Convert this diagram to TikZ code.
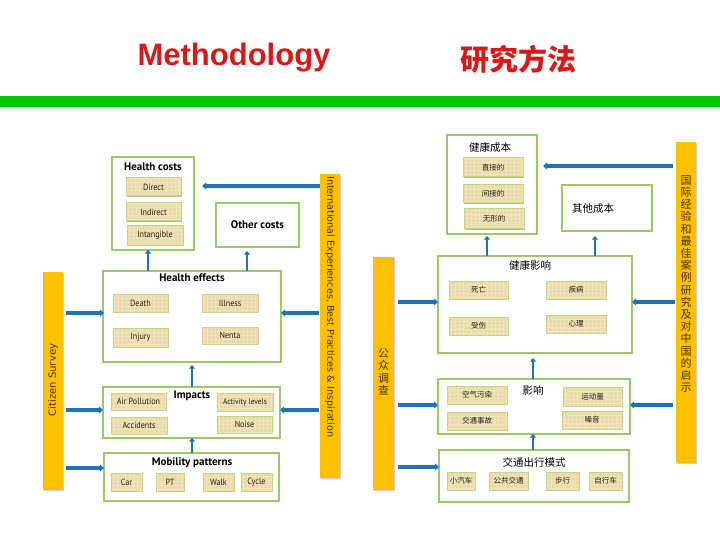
\documentclass[tikz,border=0pt]{standalone}
\usepackage{fontspec}
\setmainfont{PT Sans}
\newfontfamily\subf[FakeStretch=0.9]{PT Sans}
\newfontfamily\cjk{Noto Sans CJK SC}
\newfontfamily\dejavu{DejaVu Sans}
\newfontfamily\arialf{Liberation Sans}
\usetikzlibrary{arrows.meta,shadows}
\definecolor{arrblue}{RGB}{31,113,184}
\definecolor{barorange}{RGB}{255,192,0}
\definecolor{boxgreen}{RGB}{155,200,105}
\definecolor{tanfill}{RGB}{234,220,168}
\definecolor{tanline}{RGB}{240,229,190}
\definecolor{subborder}{RGB}{196,212,128}
\definecolor{subshadow}{RGB}{140,165,95}
\definecolor{titlered}{RGB}{215,25,25}
\definecolor{topgreen}{RGB}{0,200,0}
\definecolor{bartext}{RGB}{70,45,0}
\definecolor{subtext}{RGB}{35,30,20}
\newcommand{\boxat}[7]{\node[#1, minimum width={#5-#3}, minimum height={#6-#4}] (#2) at ({(#3+#5)/2},{(#4+#6)/2}) {#7};}
\begin{document}
\begin{tikzpicture}[x=1pt,y=-1pt,
  bigbox/.style={draw=boxgreen, line width=1.1pt, fill=white, inner sep=0pt, outer sep=0pt},
  subbox/.style={draw=subborder, line width=1pt, fill=tanfill, inner sep=0pt, outer sep=0pt,
    text=subtext, font=\subf\fontsize{9}{10}\selectfont,
    drop shadow={shadow xshift=1.3pt, shadow yshift=-1.3pt, fill=subshadow, opacity=0.7},
    path picture={\draw[tanline, line width=0.25pt] (path picture bounding box.south west) grid[step=4pt] (path picture bounding box.north east);}},
  csub/.style={subbox, font=\cjk\fontsize{7.5}{9}\selectfont},
  bar/.style={fill=barorange, draw=none, inner sep=0pt, outer sep=0pt,
    drop shadow={shadow xshift=1.2pt, shadow yshift=-1.2pt, fill=black!40, opacity=0.5}},
  entitle/.style={font=\bfseries\fontsize{11}{12}\selectfont, inner sep=0pt},
  cntitle/.style={font=\cjk\fontsize{10.5}{12}\selectfont, inner sep=0pt},
  arr/.style={draw=arrblue, line width=3.4pt, -{Triangle[length=4pt,width=7pt]}},
  varr/.style={draw=arrblue, line width=2.6pt, -{Triangle[length=3.5pt,width=6pt]}}
]
\useasboundingbox (0,0) rectangle (720,540);
% header
\node[font=\arialf\bfseries\fontsize{31}{33}\selectfont, text=titlered, anchor=base, inner sep=0pt] (meth) at (234,66) {Methodology};
\node[font=\cjk\bfseries\fontsize{29}{32}\selectfont, text=titlered, inner sep=0pt] (yjff) at (518,59) {研究方法};
\fill[topgreen] (0,96) rectangle (720,107);

% ---------------- left diagram ----------------
\boxat{bigbox}{hc}{112}{157}{194}{250}{}
\node[entitle] (hct) at (153,167) {Health costs};
\boxat{subbox}{direct}{126}{178}{181}{196}{Direct}
\boxat{subbox}{indirect}{126}{203}{181}{221}{Indirect}
\boxat{subbox}{intangible}{127}{226}{183}{245}{Intangible}
\boxat{bigbox}{oc}{216}{203}{299}{247}{}
\node[entitle] (oct) at (257.5,225) {Other costs};

\boxat{bigbox}{he}{103}{271}{281}{362}{}
\node[entitle] (het) at (192,278) {Health effects};
\boxat{subbox}{death}{113}{294}{168}{312}{Death}
\boxat{subbox}{illness}{202}{294}{258}{312}{Illness}
\boxat{subbox}{injury}{113}{328}{168}{347}{Injury}
\boxat{subbox}{nenta}{202}{327}{258}{344}{Nenta}

\boxat{bigbox}{im}{103}{387}{280}{438}{}
\node[entitle] (imt) at (192,396) {Impacts};
\boxat{subbox}{airp}{111}{393}{166}{410}{Air Pollution}
\boxat{subbox}{activity}{217}{393}{273}{411}{\fontsize{8.2}{9}\selectfont Activity levels}
\boxat{subbox}{accidents}{111}{417}{167}{434}{Accidents}
\boxat{subbox}{noise}{217}{416}{272}{433}{Noise}

\boxat{bigbox}{mp}{104}{453}{279}{501}{}
\node[entitle] (mpt) at (192,463) {Mobility patterns};
\boxat{subbox}{car}{111}{473}{142}{491}{Car}
\boxat{subbox}{pt}{156}{473}{184}{491}{PT}
\boxat{subbox}{walk}{203}{473}{234}{491}{Walk}
\boxat{subbox}{cycle}{241}{473}{272}{491}{Cycle}

\boxat{bar}{cs}{43}{272}{63}{490}{}
\node[font=\dejavu\fontsize{10}{12}\selectfont, text=bartext, rotate=90, inner sep=0pt] (cst) at (53,380) {Citizen Survey};
\boxat{bar}{intl}{320}{174}{340}{478}{}
\node[font=\dejavu\fontsize{9.6}{12}\selectfont, text=bartext, rotate=-90, anchor=west, inner sep=0pt] (intlt) at (330,176) {International Experiences, Best Practices \& Inspiration};

% left arrows
\draw[arr, shorten >=8pt] (intl.west |- 0,186) -- (hc.east |- 0,186);
\draw[varr] (he.north -| 148,0) -- (hc.south -| 148,0);
\draw[varr, shorten >=4pt] (he.north -| 247,0) -- (oc.south -| 247,0);
\draw[arr, shorten <=3pt, shorten >=-1pt] (cs.east |- 0,313) -- (he.west |- 0,313);
\draw[arr, shorten <=1pt] (intl.west |- 0,313) -- (he.east |- 0,313);
\draw[varr, shorten >=3pt] (im.north -| 192,0) -- (he.south -| 192,0);
\draw[varr] (mp.north -| 192,0) -- (im.south -| 192,0);
\draw[arr, shorten <=3pt] (cs.east |- 0,410) -- (im.west |- 0,410);
\draw[arr, shorten <=3pt] (cs.east |- 0,468) -- (mp.west |- 0,468);
\draw[arr, shorten <=1pt] (intl.west |- 0,410) -- (im.east |- 0,410);

% ---------------- right diagram ----------------
\boxat{bigbox}{jkcb}{447}{135}{537}{234}{}
\node[cntitle] (jkcbt) at (490,147) {健康成本};
\boxat{csub}{zj}{463}{158}{523}{177}{直接的}
\boxat{csub}{jj}{463}{185}{523}{203}{间接的}
\boxat{csub}{wx}{464}{209}{524}{229}{无形的}
\boxat{bigbox}{qt}{562}{185}{652}{231}{}
\node[cntitle] (qtt) at (593,209) {其他成本};

\boxat{bigbox}{jkyx}{438}{256}{632}{353}{}
\node[cntitle] (jkyxt) at (530,265) {健康影响};
\boxat{csub}{sw}{449}{281}{508}{299}{死亡}
\boxat{csub}{jb}{546}{281}{606}{299}{疾病}
\boxat{csub}{ss}{449}{317}{508}{335}{受伤}
\boxat{csub}{xl}{546}{315}{606}{333}{心理}

\boxat{bigbox}{yx}{438}{379}{630}{434}{}
\node[cntitle] (yxt) at (533,390) {影响};
\boxat{csub}{kq}{447}{386}{507}{404}{空气污染}
\boxat{csub}{yd}{563}{387}{622}{406}{运动量}
\boxat{csub}{jt}{447}{412}{507}{430}{交通事故}
\boxat{csub}{zy}{562}{411}{622}{429}{噪音}

\boxat{bigbox}{jtcx}{439}{450}{629}{502}{}
\node[cntitle] (jtcxt) at (534,462) {交通出行模式};
\boxat{csub}{xqc}{447}{472}{475}{490}{小汽车}
\boxat{csub}{ggjt}{489}{472}{528}{490}{公共交通}
\boxat{csub}{bx}{546}{472}{579}{490}{步行}
\boxat{csub}{zxc}{589}{472}{622}{490}{自行车}

\boxat{bar}{gz}{373}{257}{394}{490}{}
\node[font=\cjk\fontsize{11}{12.5}\selectfont, text=bartext, align=center, inner sep=0pt] (gzt) at (383.5,372) {公\\众\\调\\查};
\boxat{bar}{gj}{676}{142}{696}{463}{}
\node[font=\cjk\fontsize{11}{12.2}\selectfont, text=bartext, align=center, inner sep=0pt] (gjt) at (686,284) {国\\际\\经\\验\\和\\最\\佳\\案\\例\\研\\究\\及\\对\\中\\国\\的\\启\\示};

% right arrows
\draw[arr, shorten <=3pt, shorten >=6pt] (gj.west |- 0,166) -- (jkcb.east |- 0,166);
\draw[varr, shorten >=2pt] (jkyx.north -| 487,0) -- (jkcb.south -| 487,0);
\draw[varr, shorten >=5pt] (jkyx.north -| 595,0) -- (qt.south -| 595,0);
\draw[arr, shorten <=4pt] (gz.east |- 0,302) -- (jkyx.west |- 0,302);
\draw[arr, shorten <=1pt] (gj.west |- 0,302) -- (jkyx.east |- 0,302);
\draw[varr, shorten >=5pt] (yx.north -| 533,0) -- (jkyx.south -| 533,0);
\draw[varr] (jtcx.north -| 533,0) -- (yx.south -| 533,0);
\draw[arr, shorten <=4pt] (gz.east |- 0,405) -- (yx.west |- 0,405);
\draw[arr, shorten <=4pt] (gz.east |- 0,467) -- (jtcx.west |- 0,467);
\draw[arr, shorten <=3pt] (gj.west |- 0,405) -- (yx.east |- 0,405);
\end{tikzpicture}
\end{document}
